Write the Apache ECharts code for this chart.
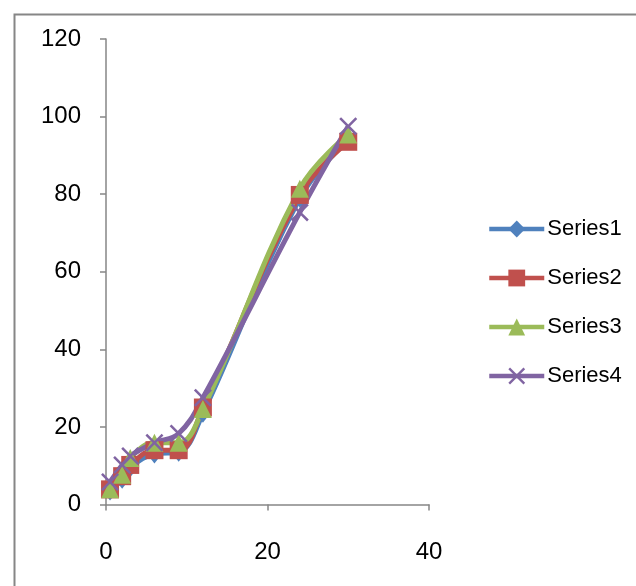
<!DOCTYPE html>
<html>
<head>
<meta charset="utf-8">
<script src="https://cdn.jsdelivr.net/npm/echarts@6/dist/echarts.min.js"></script>
<style>
html,body{margin:0;padding:0;background:#fff;}
#chart{width:636px;height:586px;}
</style>
</head>
<body>
<div id="chart"></div>
<script>
var xValues = [0.5, 2, 3, 6, 9, 12, 24, 30];
var series1 = [3.5, 6.5, 9.5, 13, 13.5, 23.5, 79, 94];
var series2 = [3.9, 7.3, 10.2, 14, 14, 25, 79.8, 93.5];
var series3 = [3.9, 7.7, 12, 15.9, 15.9, 24.6, 81.4, 95.4];
var series4 = [5.8, 10.2, 12.5, 15.9, 18.3, 27.5, 75.3, 97.5];
var seriesNames = ['Series1', 'Series2', 'Series3', 'Series4'];
var xTicks = [0, 20, 40];
var yTicks = [0, 20, 40, 60, 80, 100, 120];

function pairs(ys) { return xValues.map(function (x, i) { return [x, ys[i]]; }); }

var xSym = 'path://M0,1 L1,0 L5,4 L9,0 L10,1 L6,5 L10,9 L9,10 L5,6 L1,10 L0,9 L4,5 Z';
var styles = [
  { color: '#4F81BD', symbol: 'diamond', size: [15, 19] },
  { color: '#C0504D', symbol: 'rect', size: 18 },
  { color: '#9BBB59', symbol: 'triangle', size: 18 },
  { color: '#8064A2', symbol: xSym, size: 18 }
];
var allData = [series1, series2, series3, series4];
var FONT = 'Liberation Sans';

var chart = echarts.init(document.getElementById('chart'));
chart.setOption({
  animation: false,
  backgroundColor: '#fff',
  textStyle: { fontFamily: FONT },
  graphic: [{
    type: 'rect', left: 12, top: 12, z: -1,
    shape: { width: 700, height: 700 },
    style: { fill: 'none', stroke: '#868686', lineWidth: 2 }
  }],
  grid: { left: 106, right: 207, top: 39, bottom: 81.5, containLabel: false },
  xAxis: {
    type: 'value', min: xTicks[0], max: xTicks[xTicks.length - 1], interval: 20,
    axisLine: { show: true, onZero: false, lineStyle: { color: '#868686', width: 1.5 } },
    axisTick: { show: true, length: 6, lineStyle: { color: '#868686', width: 1.5 } },
    axisLabel: { color: '#000', fontSize: 24, margin: 36, fontFamily: FONT },
    splitLine: { show: false }
  },
  yAxis: {
    type: 'value', min: yTicks[0], max: yTicks[yTicks.length - 1], interval: 20,
    axisLine: { show: true, onZero: false, lineStyle: { color: '#868686', width: 1.5 } },
    axisTick: { show: true, length: 6, lineStyle: { color: '#868686', width: 1.5 } },
    axisLabel: { color: '#000', fontSize: 24, margin: 25, fontFamily: FONT },
    splitLine: { show: false }
  },
  legend: {
    orient: 'vertical', left: 482, top: 213,
    itemWidth: 55, itemHeight: 21, itemGap: 27,
    lineStyle: { width: 4.5 },
    textStyle: { fontSize: 22, color: '#000', fontFamily: FONT, padding: [0, 0, 0, -2] },
    data: seriesNames
  },
  series: allData.map(function (d, i) {
    var s = styles[i];
    return {
      name: seriesNames[i], type: 'line', smooth: 0.4,
      data: pairs(d),
      symbol: s.symbol, symbolSize: s.size, showSymbol: true,
      lineStyle: { color: s.color, width: 5 },
      itemStyle: { color: s.color, borderWidth: 0 },
      emphasis: { disabled: true }
    };
  })
});
</script>
</body>
</html>
